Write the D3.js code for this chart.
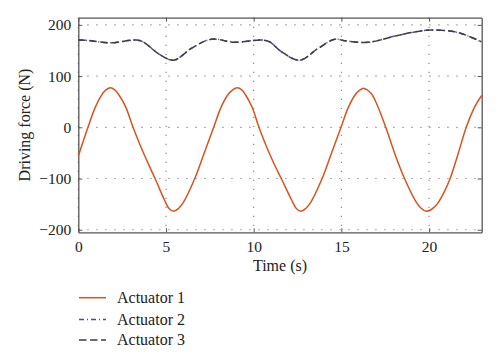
<!DOCTYPE html>
<html>
<head>
<meta charset="utf-8">
<script src="https://cdn.jsdelivr.net/npm/d3@7/dist/d3.min.js"></script>
<style>
  body { margin: 0; background: #fff; }
  svg { display: block; font-family: "Liberation Serif", "Times New Roman", serif; }
</style>
</head>
<body>
<div id="chart"></div>
<script>
// actuator 1
const t1 = [0, 0.36, 0.55, 0.93, 1.31, 1.58, 1.83, 2.08, 2.3, 2.7, 3.12, 3.59, 4.0, 4.39, 4.9, 5.17, 5.44, 5.71,
  6.0, 6.64, 7.2, 7.72, 8.1, 8.5, 8.8, 9.07, 9.32, 9.52, 9.9, 10.3, 10.78, 11.2, 11.6, 12.15, 12.43, 12.7, 12.97,
  13.26, 13.9, 14.46, 14.98, 15.36, 15.76, 16.03, 16.29, 16.7, 17.01, 17.53, 18.05, 18.6, 19.2, 19.55, 19.84, 20.15,
  20.5, 20.85, 21.2, 21.67, 22.12, 22.6, 23.0];
const f1 = [-56, -19, 0, 36, 62, 73, 77, 73, 64, 40, 0, -40, -72, -101, -141, -158.5, -164, -158.5,
  -146, -100, -48, 0, 36, 62, 73, 77, 73, 64, 40, 0, -42, -74, -102, -141, -158.5, -164, -158.5,
  -146, -100, -48, 0, 36, 62, 72, 76, 66, 46, 0, -52, -100, -142, -158, -164, -160,
  -148, -127, -100, -50, 0, 40, 62];

// actuators 2 and 3 lie on top of each other
const t23 = [0, 0.4, 1.88, 3.31, 3.78, 4.54, 5.44, 6.44, 7.58, 8.91, 10.43, 10.9, 11.57, 12.62, 13.67, 14.62,
  15.19, 16.52, 18.04, 18.99, 20.13, 21.65, 22.98];
const f2 = [170.5, 170, 165, 170.5, 165, 144.5, 131, 154, 172, 166, 170.5, 167, 148, 131, 154, 172,
  169, 166, 178, 185, 190, 185, 167];
const f3 = [170.5, 170, 165, 170.5, 165, 144.5, 131, 154, 172, 166, 170.5, 167, 148, 131, 154, 172,
  169, 166, 178, 185, 190, 185, 167];

const xTicks = [0, 5, 10, 15, 20];
const yTicks = [-200, -100, 0, 100, 200];
const seriesNames = ['Actuator 1', 'Actuator 2', 'Actuator 3'];

const W = 500, H = 363;
const margin = { top: 17.7, right: 18.3, bottom: 130.7, left: 78.3 };
const width = W - margin.left - margin.right;
const height = H - margin.top - margin.bottom;

const styles = [
  { color: '#d9531e', dash: null },
  { color: '#4b4b9a', dash: '5,3,1,3' },
  { color: '#3d3d3d', dash: '7.5,3.5' }
];

const svg = d3.select('#chart').append('svg')
  .attr('width', W)
  .attr('height', H);

const g = svg.append('g')
  .attr('transform', `translate(${margin.left}, ${margin.top})`);

const x = d3.scaleLinear().domain([0, 23]).range([0, width]);
const y = d3.scaleLinear().domain([-205, 214]).range([height, 0]);

// grid
g.append('g').selectAll('line')
  .data(xTicks)
  .enter().append('line')
  .attr('x1', d => x(d)).attr('x2', d => x(d))
  .attr('y1', 0).attr('y2', height)
  .attr('stroke', '#8a8a8a').attr('stroke-width', 1.2)
  .attr('stroke-dasharray', '1.3,7.7');
g.append('g').selectAll('line')
  .data(yTicks)
  .enter().append('line')
  .attr('x1', 0).attr('x2', width)
  .attr('y1', d => y(d)).attr('y2', d => y(d))
  .attr('stroke', '#8a8a8a').attr('stroke-width', 1.2)
  .attr('stroke-dasharray', '1.3,7.7');

// axes
const xAxis = d3.axisBottom(x).tickValues(xTicks).tickSizeInner(-4).tickSizeOuter(0).tickPadding(9);
const yAxis = d3.axisLeft(y).tickValues(yTicks).tickSizeInner(-4).tickSizeOuter(0).tickPadding(7);

const gx = g.append('g').attr('transform', `translate(0, ${height})`).call(xAxis);
const gy = g.append('g').call(yAxis);
g.append('g').call(d3.axisTop(x).tickValues(xTicks).tickSizeInner(-4).tickSizeOuter(0).tickFormat(''));
g.append('g').attr('transform', `translate(${width}, 0)`)
  .call(d3.axisRight(y).tickValues(yTicks).tickSizeInner(-4).tickSizeOuter(0).tickFormat(''));

g.selectAll('.domain').attr('stroke', '#555').attr('stroke-width', 1.3);
g.selectAll('.tick line').attr('stroke', '#555');
[gx, gy].forEach(a => a.selectAll('text')
  .attr('font-family', '"Liberation Serif", serif')
  .attr('font-size', 15.5)
  .attr('fill', '#222'));

// lines
const line = d3.line()
  .x(d => x(d[0]))
  .y(d => y(d[1]))
  .curve(d3.curveCatmullRom.alpha(0.5));

const series = [
  d3.zip(t1, f1),
  d3.zip(t23, f2),
  d3.zip(t23, f3)
];

series.forEach((s, i) => {
  g.append('path')
    .datum(s)
    .attr('fill', 'none')
    .attr('stroke', styles[i].color)
    .attr('stroke-width', 1.5)
    .attr('stroke-dasharray', styles[i].dash)
    .attr('d', line);
});

// axis labels
svg.append('text')
  .attr('x', margin.left + width / 2)
  .attr('y', 271)
  .attr('text-anchor', 'middle')
  .attr('font-size', 16)
  .attr('fill', '#222')
  .text('Time (s)');

svg.append('text')
  .attr('transform', `translate(29.5, ${margin.top + height / 2}) rotate(-90)`)
  .attr('text-anchor', 'middle')
  .attr('font-size', 16)
  .attr('fill', '#222')
  .text('Driving force (N)');

// legend
const legendY = [297.7, 319.5, 340];
const legend = svg.append('g');
seriesNames.forEach((name, i) => {
  legend.append('line')
    .attr('x1', 79).attr('x2', 106)
    .attr('y1', legendY[i]).attr('y2', legendY[i])
    .attr('stroke', styles[i].color)
    .attr('stroke-width', 1.5)
    .attr('stroke-dasharray', styles[i].dash);
  legend.append('text')
    .attr('x', 117)
    .attr('y', legendY[i])
    .attr('dy', '0.33em')
    .attr('font-size', 16)
    .attr('fill', '#222')
    .text(name);
});
</script>
</body>
</html>
